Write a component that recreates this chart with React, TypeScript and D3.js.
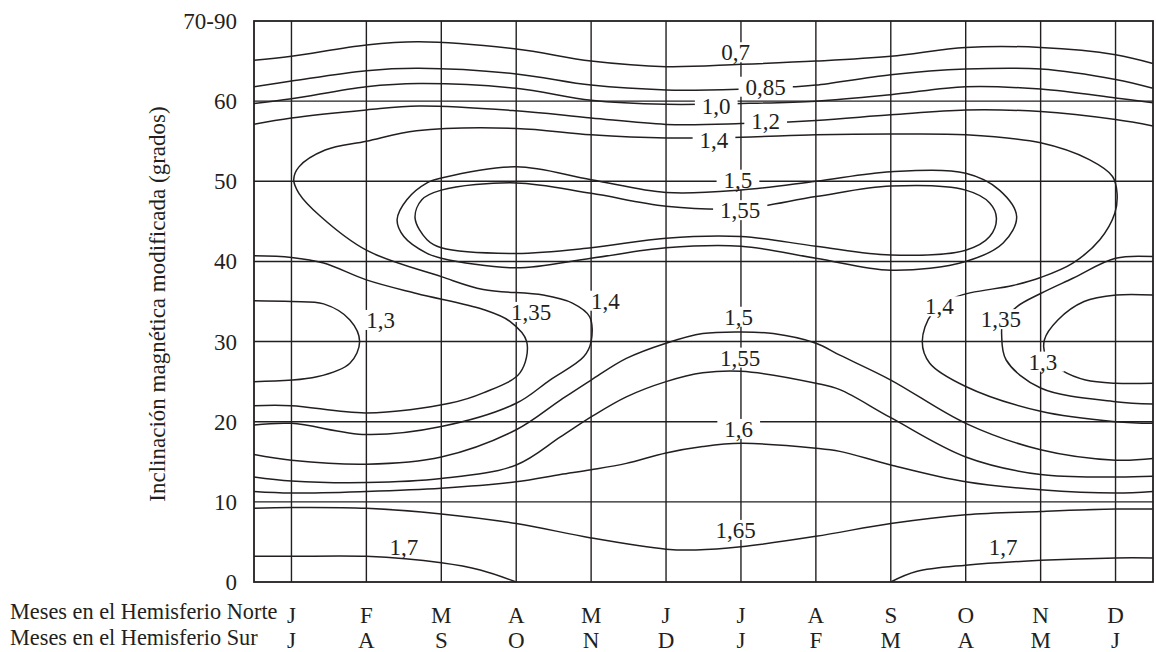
import * as d3 from 'd3'

type Pt = [number, number]

const WIDTH = 1156
const HEIGHT = 652
const PLOT = { left: 254, right: 1153, top: 21, bottom: 582 }
const FONT = '"Liberation Serif", "Times New Roman", Times, serif'
const FONT_SIZE = 23
const INK = '#231f20'

const MONTHS_NORTH = ['J', 'F', 'M', 'A', 'M', 'J', 'J', 'A', 'S', 'O', 'N', 'D']
const MONTHS_SOUTH = ['J', 'A', 'S', 'O', 'N', 'D', 'J', 'F', 'M', 'A', 'M', 'J']
const Y_TICKS = [0, 10, 20, 30, 40, 50, 60, 70]
const Y_TICK_LABELS = ['0', '10', '20', '30', '40', '50', '60', '70-90']
const H_GRID = [10, 20, 30, 40, 50, 60]

// contour lines, [month index (0 = J), modified dip in degrees]
const C_070: Pt[] = [[-0.5, 65.1], [0, 65.6], [1, 67.0], [1.7, 67.4], [3, 66.5], [4, 65.0], [5, 64.3], [6, 64.6], [7, 65.0], [8, 65.6], [9, 66.7], [10, 66.7], [11, 65.8], [11.5, 64.7]]
const C_085: Pt[] = [[-0.5, 61.8], [0, 62.5], [1, 63.8], [1.7, 64.1], [3, 63.4], [4, 62.0], [5, 61.4], [6, 61.5], [6.7, 61.8], [7, 62.0], [8, 63.3], [9, 64.0], [10, 64.0], [11, 62.7], [11.5, 61.6]]
const C_100: Pt[] = [[-0.5, 59.7], [0, 60.3], [1, 61.8], [1.7, 62.2], [3, 61.6], [4, 60.1], [5, 59.6], [6, 59.7], [7, 60.0], [8, 60.8], [9, 61.8], [10, 61.5], [11, 60.4], [11.5, 59.8]]
const C_120: Pt[] = [[-0.5, 57.1], [0, 57.9], [1, 58.9], [1.7, 59.4], [3, 58.8], [4, 57.9], [5, 57.1], [6, 57.2], [7, 57.6], [8, 58.3], [9, 58.9], [10, 58.7], [11, 57.7], [11.5, 56.9]]
const C_140: Pt[] = [
  [-0.5, 19.6], [0, 19.8], [1, 18.4], [2, 19.4], [3, 22.3], [3.45, 25.2], [3.9, 28.1], [4.0, 30.0], [3.98, 33.1], [3.75, 34.8],
  [3.36, 35.8], [2.56, 36.5], [2.0, 38.1], [1.0, 41.4], [0.39, 45.6], [0.1, 48.5], [0.03, 50.2], [0.1, 51.8], [0.45, 53.9],
  [1, 55.0], [1.67, 56.3], [3, 56.6], [4, 55.8], [5, 55.4], [6, 55.5], [7, 55.8], [8, 55.9], [9, 55.8], [10, 54.8],
  [10.65, 52.7], [10.96, 50.6], [11.02, 48.5], [10.99, 46.0], [10.79, 42.7], [10.43, 39.8], [10, 38.0], [9.63, 37.0],
  [8.88, 35.6], [8.55, 33.5], [8.42, 30.0], [8.52, 27.3], [9, 24.4], [10, 21.3], [11, 20.0], [11.5, 19.8],
]
const C_135_L: Pt[] = [[-0.5, 40.7], [0, 40.5], [0.43, 39.8], [1, 37.7], [1.67, 36.0], [2.56, 34.0], [2.92, 32.5], [3.14, 30.0], [3.05, 26.1], [2.56, 23.6], [2.11, 22.3], [1, 21.1], [0, 22.0], [-0.5, 22.0]]
const C_135_R: Pt[] = [[11.5, 40.6], [11.0, 40.4], [10.43, 37.9], [10.0, 36.0], [9.69, 34.4], [9.5, 32.5], [9.48, 30.8], [9.54, 27.7], [10, 24.2], [11, 22.5], [11.5, 22.2]]
const C_130_L: Pt[] = [[-0.5, 35.1], [0, 35.0], [0.43, 34.7], [0.78, 32.7], [0.91, 30.0], [0.78, 27.3], [0.34, 25.6], [-0.5, 25.0]]
const C_130_R: Pt[] = [[11.5, 35.8], [11.01, 35.8], [10.58, 35.0], [10.23, 32.7], [10.05, 30.2], [10.08, 28.0], [10.3, 26.3], [10.6, 25.2], [11, 24.8], [11.5, 24.8]]
const C_150_UP: Pt[] = [[1.41, 45.2], [1.54, 47.7], [1.81, 49.8], [2, 50.4], [3, 51.8], [4, 50.2], [5, 48.6], [6, 48.9], [7, 50.0], [8, 51.2], [9, 51.0], [9.45, 48.9], [9.68, 45.6], [9.5, 42.3], [9, 40.0], [8, 38.9], [7, 40.4], [6, 41.9], [5, 41.7], [4, 40.4], [3, 39.2], [2, 40.4], [1.81, 41.0], [1.5, 43.1]]
const C_155_UP: Pt[] = [[1.65, 45.4], [1.74, 47.7], [2, 48.9], [3, 49.8], [4, 48.5], [5, 46.9], [6, 46.6], [7, 48.1], [8, 49.4], [9, 48.9], [9.32, 47.3], [9.41, 45.4], [9.32, 43.1], [9, 41.4], [8, 40.8], [7, 41.9], [6, 43.1], [5, 42.9], [4, 41.7], [3, 41.0], [2, 41.7], [1.81, 42.7]]
const C_150: Pt[] = [[-0.5, 15.9], [0, 15.2], [1, 14.7], [2, 15.6], [3, 19.0], [3.59, 22.7], [4, 25.2], [4.47, 27.9], [5, 29.8], [5.49, 31.0], [6, 31.2], [6.43, 31.0], [7, 29.8], [7.32, 28.3], [8, 25.2], [9, 19.8], [10, 16.5], [11, 15.2], [11.5, 15.4]]
const C_155: Pt[] = [[-0.5, 13.1], [0, 12.6], [1, 12.4], [2, 12.9], [3, 14.6], [3.59, 18.1], [4, 20.6], [4.47, 23.1], [5, 25.0], [5.49, 26.1], [6, 26.3], [7, 24.8], [7.32, 24.0], [8, 20.5], [9, 15.6], [10, 13.4], [11, 13.1], [11.5, 13.2]]
const C_160: Pt[] = [[-0.5, 11.3], [0, 11.1], [1, 11.3], [2, 11.7], [3, 12.5], [3.59, 13.4], [4, 14.0], [4.47, 14.8], [5, 16.1], [5.49, 16.9], [6, 17.3], [7, 16.7], [7.32, 16.3], [8, 14.6], [9, 12.5], [10, 11.5], [11, 11.1], [11.5, 11.3]]
const C_165: Pt[] = [[-0.5, 9.2], [0, 9.3], [1, 9.2], [2, 8.5], [3, 7.3], [4, 5.5], [5, 4.1], [5.4, 4.0], [6, 4.4], [7, 5.7], [8, 7.3], [9, 8.4], [10, 8.8], [11, 9.1], [11.5, 9.1]]
const C_170_L: Pt[] = [[-0.5, 3.2], [0, 3.2], [1, 3.2], [2, 2.4], [2.52, 1.5], [3, 0]]
const C_170_R: Pt[] = [[8, 0], [8.34, 1.3], [9, 2.1], [10, 2.7], [11, 3.0], [11.5, 3.0]]

const OPEN_CONTOURS = [C_070, C_085, C_100, C_120, C_140, C_135_L, C_135_R, C_130_L, C_130_R, C_150, C_155, C_160, C_165, C_170_L, C_170_R]
const CLOSED_CONTOURS = [C_150_UP, C_155_UP]

// contour labels: inline ones break the curve, the others only the grid
const LABEL_TEXT = ['0,7', '0,85', '1,0', '1,2', '1,4', '1,5', '1,55', '1,3', '1,35', '1,4', '1,5', '1,55', '1,6', '1,65', '1,7', '1,7', '1,4', '1,35', '1,3']
const LABEL_AT: Pt[] = [[5.93, 66.1], [6.33, 61.8], [5.67, 59.4], [6.33, 57.5], [5.64, 55.2], [5.96, 50.2], [5.99, 46.4], [1.19, 32.7], [3.2, 33.7], [4.19, 35.1], [5.97, 33.1], [5.99, 28.0], [5.97, 19.1], [5.93, 6.5], [1.5, 4.4], [9.5, 4.4], [8.65, 34.4], [9.47, 32.8], [10.03, 27.5]]
const LABEL_INLINE = [false, true, true, true, true, false, true, false, false, false, false, false, false, false, false, false, true, true, true]

const textWidth = (s: string) => s.split('').reduce((w, c) => w + (c === ',' ? 0.25 : 0.5), 0) * FONT_SIZE

export default function App() {
  const x = d3.scaleLinear().domain([-0.5, 11.5]).range([PLOT.left, PLOT.right])
  const y = d3.scaleLinear().domain([0, 70]).range([PLOT.bottom, PLOT.top])

  const openLine = d3.line<Pt>().x(d => x(d[0])).y(d => y(d[1])).curve(d3.curveCatmullRom.alpha(0.5))
  const closedLine = d3.line<Pt>().x(d => x(d[0])).y(d => y(d[1])).curve(d3.curveCatmullRomClosed.alpha(0.5))

  const labels = LABEL_TEXT.map((text, i) => ({
    text,
    cx: x(LABEL_AT[i][0]),
    cy: y(LABEL_AT[i][1]),
    w: textWidth(text),
    inline: LABEL_INLINE[i],
  }))

  const box = (l: typeof labels[number], i: number) => (
    <rect key={i} x={l.cx - l.w / 2 - 7} y={l.cy - 10} width={l.w + 14} height={20} fill="white" />
  )

  return (
    <svg
      width={WIDTH}
      height={HEIGHT}
      style={{ position: 'absolute', left: 0, top: 0, background: 'white' }}
      fontFamily={FONT}
    >
      <defs>
        <clipPath id="plot-clip">
          <rect x={PLOT.left} y={PLOT.top} width={PLOT.right - PLOT.left} height={PLOT.bottom - PLOT.top} />
        </clipPath>
      </defs>

      {/* Grid */}
      {MONTHS_NORTH.map((_, i) => (
        <line key={`v${i}`} x1={x(i)} x2={x(i)} y1={PLOT.top} y2={PLOT.bottom} stroke={INK} strokeWidth={1.4} />
      ))}
      {H_GRID.map(t => (
        <line key={`h${t}`} x1={PLOT.left} x2={PLOT.right} y1={y(t)} y2={y(t)} stroke={INK} strokeWidth={1.4} />
      ))}

      {/* Boxes that only break the grid */}
      {labels.filter(l => !l.inline).map(box)}

      {/* Contours */}
      <g clipPath="url(#plot-clip)" fill="none" stroke={INK} strokeWidth={1.5}>
        {OPEN_CONTOURS.map((c, i) => <path key={`o${i}`} d={openLine(c) ?? ''} />)}
        {CLOSED_CONTOURS.map((c, i) => <path key={`c${i}`} d={closedLine(c) ?? ''} />)}
      </g>

      {/* Boxes that break the contour itself */}
      {labels.filter(l => l.inline).map(box)}

      {/* Frame */}
      <rect x={PLOT.left} y={PLOT.top} width={PLOT.right - PLOT.left} height={PLOT.bottom - PLOT.top} fill="none" stroke={INK} strokeWidth={1.8} />

      {/* Contour labels */}
      {labels.map((l, i) => (
        <text key={`l${i}`} x={l.cx} y={l.cy} dy="0.35em" textAnchor="middle" fontSize={FONT_SIZE} fill={INK}>
          {l.text}
        </text>
      ))}

      {/* Y axis */}
      {Y_TICKS.map((t, i) => (
        <text key={`y${t}`} x={237} y={y(t)} dy="0.35em" textAnchor="end" fontSize={FONT_SIZE} fill={INK}>
          {Y_TICK_LABELS[i]}
        </text>
      ))}
      <text
        transform={`translate(165, 304) rotate(-90)`}
        textAnchor="middle"
        fontSize={FONT_SIZE}
        fill={INK}
      >
        Inclinación magnética modificada (grados)
      </text>

      {/* Month rows */}
      <text x={10} y={619} fontSize={22.3} fill={INK}>Meses en el Hemisferio Norte</text>
      <text x={10} y={645} fontSize={22.3} fill={INK}>Meses en el Hemisferio Sur</text>
      {MONTHS_NORTH.map((m, i) => (
        <text key={`n${i}`} x={x(i)} y={623} textAnchor="middle" fontSize={FONT_SIZE} fill={INK}>{m}</text>
      ))}
      {MONTHS_SOUTH.map((m, i) => (
        <text key={`s${i}`} x={x(i)} y={648} textAnchor="middle" fontSize={FONT_SIZE} fill={INK}>{m}</text>
      ))}
    </svg>
  )
}
